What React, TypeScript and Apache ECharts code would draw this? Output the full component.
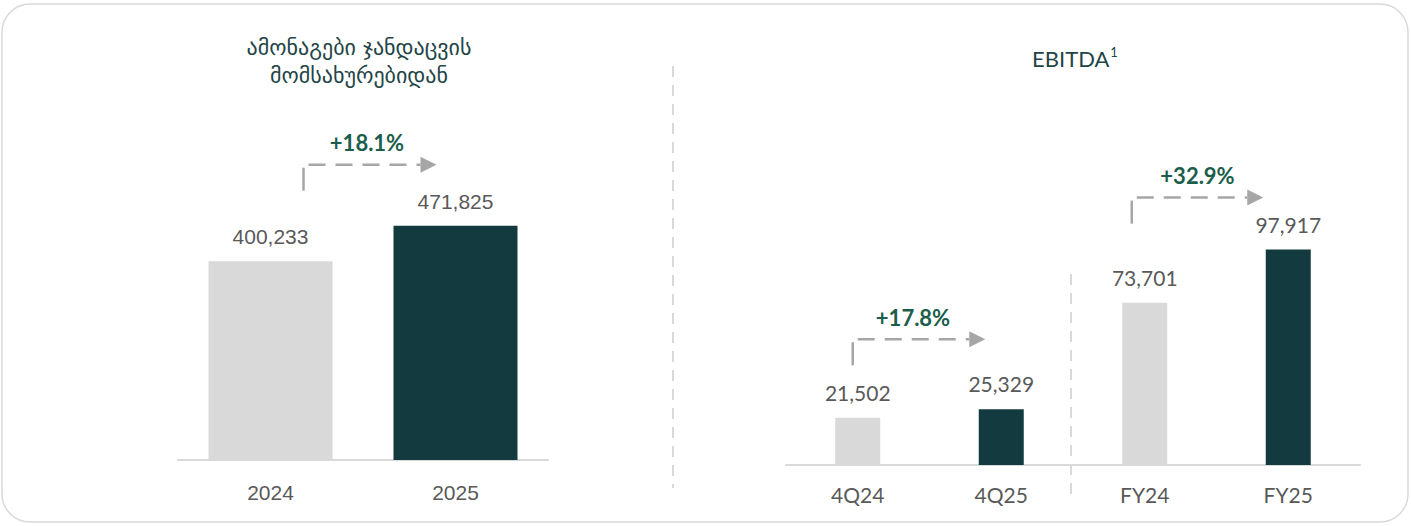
import React, { useEffect, useRef } from "react";
import * as echarts from "echarts";

const leftTitle = ["ამონაგები ჯანდაცვის", "მომსახურებიდან"];
const leftCategories = ["2024", "2025"];
const leftValues = [400233, 471825];

const rightTitle = "EBITDA";
const rightFootnote = "1";
const rightCategories = ["4Q24", "4Q25", "FY24", "FY25"];
const rightValues = [21502, 25329, 73701, 97917];

const growthLabels = ["+18.1%", "+17.8%", "+32.9%"];

const LIGHT = "#d9d9d9";
const DARK = "#133a3e";
const TEXT = "#595959";
const GREEN = "#1b5e4b";
const ARROW = "#a6a6a6";
const TITLE = "#1f4547";

// annotation layout (decoration offsets, relative to bars)
const annotations = [
  { series: 0, from: 0, to: 1, label: growthLabels[0], dxStart: 33, dxEnd: -19, rise: 61, dxLabel: -3 },
  { series: 1, from: 0, to: 1, label: growthLabels[1], dxStart: -5, dxEnd: -16, rise: 70, dxLabel: -6 },
  { series: 1, from: 2, to: 3, label: growthLabels[2], dxStart: -13, dxEnd: -25, rise: 52, dxLabel: 0 },
];

const fmt = (v: number) => v.toLocaleString("en-US");

export default function App() {
  const ref = useRef<HTMLDivElement>(null);
  useEffect(() => {
    if (!ref.current) return;
    const chart = echarts.init(ref.current, undefined, { renderer: "svg" });
    const colorFor = (i: number) => (i % 2 === 0 ? LIGHT : DARK);
    chart.setOption({
      animation: false,
      backgroundColor: "#ffffff",
      grid: [
        { left: 178, top: 162, width: 370, height: 298 },
        { left: 786, top: 135, width: 574, height: 330 },
      ],
      xAxis: [
        {
          type: "category",
          gridIndex: 0,
          data: leftCategories,
          axisLine: { lineStyle: { color: LIGHT, width: 2 } },
          axisTick: { show: false },
          axisLabel: { color: TEXT, fontSize: 21, fontFamily: "Liberation Sans", margin: 22 },
        },
        {
          type: "category",
          gridIndex: 1,
          data: rightCategories,
          axisLine: { lineStyle: { color: LIGHT, width: 2 } },
          axisTick: { show: false },
          axisLabel: { color: TEXT, fontSize: 21, fontFamily: "Lato", margin: 19 },
        },
      ],
      yAxis: [
        { type: "value", gridIndex: 0, min: 0, max: 600000, show: false, splitLine: { show: false } },
        { type: "value", gridIndex: 1, min: 0, max: 150000, show: false, splitLine: { show: false } },
      ],
      series: [
        {
          type: "bar",
          xAxisIndex: 0,
          yAxisIndex: 0,
          barWidth: 124,
          data: leftValues.map((v, i) => ({ value: v, itemStyle: { color: colorFor(i) } })),
          label: {
            show: true,
            position: "top",
            distance: 14,
            color: TEXT,
            fontSize: 21,
            fontFamily: "Liberation Sans",
            formatter: (p: any) => fmt(p.value),
          },
        },
        {
          type: "bar",
          xAxisIndex: 1,
          yAxisIndex: 1,
          barWidth: 45,
          data: rightValues.map((v, i) => ({ value: v, itemStyle: { color: colorFor(i) } })),
          label: {
            show: true,
            position: "top",
            distance: 15,
            color: TEXT,
            fontSize: 21,
            fontFamily: "Lato",
            formatter: (p: any) => fmt(p.value),
          },
        },
      ],
    });

    const values = [leftValues, rightValues];
    const graphics: any[] = [
      {
        type: "rect",
        shape: { x: 2, y: 4, width: 1406, height: 518, r: 28 },
        style: { fill: "none", stroke: "#d9d9d9", lineWidth: 1.5 },
        silent: true,
      },
      {
        type: "line",
        shape: { x1: 673, y1: 66, x2: 673, y2: 488 },
        style: { stroke: LIGHT, lineWidth: 2, lineDash: [11, 8] },
      },
      {
        type: "line",
        shape: { x1: 1071, y1: 274, x2: 1071, y2: 502 },
        style: { stroke: LIGHT, lineWidth: 2, lineDash: [11, 8] },
      },
      {
        type: "text",
        x: 359,
        y: 61,
        style: {
          text: leftTitle.join("\n"),
          fill: TITLE,
          font: '22px "DejaVu Sans"',
          align: "center",
          verticalAlign: "middle",
          lineHeight: 28,
        },
      },
      {
        type: "text",
        x: 1075,
        y: 58,
        style: {
          text: `{m|${rightTitle}}{s|${rightFootnote}}`,
          align: "center",
          verticalAlign: "middle",
          fill: TITLE,
          rich: {
            m: { fontSize: 22, fontFamily: "Lato", fontWeight: "normal", fill: TITLE },
            s: { fontSize: 13, fontFamily: "Lato", fontWeight: "normal", fill: TITLE, padding: [0, 0, 12, 1] },
          },
        },
      },
    ];

    annotations.forEach((a) => {
      const vals = values[a.series];
      const p1 = chart.convertToPixel({ seriesIndex: a.series }, [a.from, vals[a.from]]) as number[];
      const p2 = chart.convertToPixel({ seriesIndex: a.series }, [a.to, vals[a.to]]) as number[];
      const x1 = p1[0] + a.dxStart;
      const xEnd = p2[0] + a.dxEnd;
      const y = p2[1] - a.rise;
      graphics.push(
        {
          type: "line",
          shape: { x1: x1, y1: y + 3, x2: x1, y2: y + 26 },
          style: { stroke: ARROW, lineWidth: 2.5 },
        },
        {
          type: "line",
          shape: { x1: x1 + 5, y1: y, x2: xEnd - 16, y2: y },
          style: { stroke: ARROW, lineWidth: 2.5, lineDash: [17, 10] },
        },
        {
          type: "polygon",
          shape: { points: [[xEnd - 16, y - 8], [xEnd, y], [xEnd - 16, y + 8]] },
          style: { fill: ARROW },
        },
        {
          type: "text",
          x: (x1 + xEnd) / 2 + a.dxLabel,
          y: y - 22,
          style: {
            text: a.label,
            fill: GREEN,
            font: 'bold 22px "Lato"',
            align: "center",
            verticalAlign: "middle",
          },
        }
      );
    });

    chart.setOption({ graphic: { elements: graphics } });
    return () => chart.dispose();
  }, []);
  return (
    <div
      ref={ref}
      style={{ position: "absolute", left: 0, top: 0, width: 1411, height: 526 }}
    />
  );
}
